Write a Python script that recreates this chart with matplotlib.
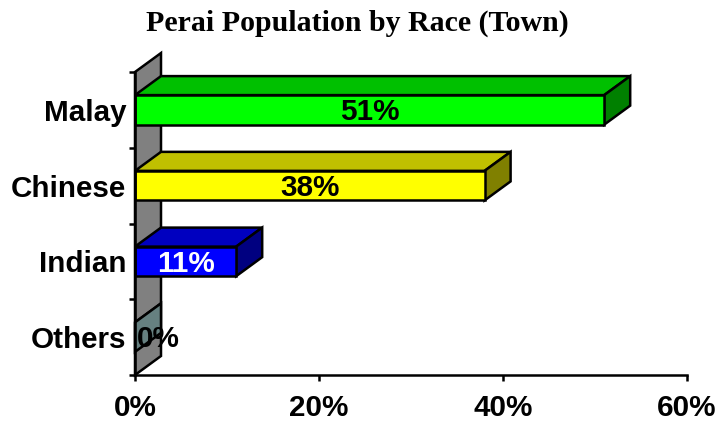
import matplotlib
matplotlib.use("Agg")
from matplotlib import pyplot as plt
from matplotlib.patches import Polygon

# values, bottom to top on the chart
races = ["Others", "Indian", "Chinese", "Malay"]
shares = [0, 11, 38, 51]
labels = ["0%", "11%", "38%", "51%"]
front_colors = ["#008080", "#0000ff", "#ffff00", "#00ff00"]
top_colors = ["#668080", "#0000c0", "#c0c000", "#00c000"]
side_colors = ["#668080", "#000080", "#808000", "#008000"]
label_colors = ["black", "white", "black", "black"]
x_ticks = [0, 20, 40, 60]

W, H = 719, 421
fig = plt.figure(figsize=(W / 100, H / 100), dpi=100)
ax = fig.add_axes([135 / W, 1 - 375 / H, 552 / W, 303 / H])
ax.set_xlim(0, 60)
ax.set_ylim(0, 4)

# fake 3d depth in data units
dx = 26 / 9.2
dy = 19 / 75.75
bar_h = 0.39
lw = 1.8
fs = 21.3


def face(pts, color, z):
    ax.add_patch(Polygon(pts, closed=True, facecolor=color, edgecolor="black",
                         linewidth=lw, joinstyle="miter", clip_on=False, zorder=z))


# back wall
face([(0, 0), (dx, dy), (dx, 4 + dy), (0, 4)], "#808080", 1)

for i, v in enumerate(shares):
    y0 = i + 0.5 - bar_h / 2
    y1 = y0 + bar_h
    z = 2 + (3 - i)
    face([(0, y1), (dx, y1 + dy), (v + dx, y1 + dy), (v, y1)], top_colors[i], z)
    face([(v, y0), (v + dx, y0 + dy), (v + dx, y1 + dy), (v, y1)], side_colors[i], z)
    if v > 0:
        face([(0, y0), (v, y0), (v, y1), (0, y1)], front_colors[i], z)
    x_text = v / 2 if v > 0 else 2.5
    ax.text(x_text, i + 0.47, labels[i], ha="center", va="center", color=label_colors[i],
            fontsize=fs, fontweight="bold", family="Liberation Sans", zorder=10)

for s in ["top", "right"]:
    ax.spines[s].set_visible(False)
for s in ["left", "bottom"]:
    ax.spines[s].set_linewidth(lw)
    ax.spines[s].set_zorder(9)
ax.patch.set_visible(False)

ax.set_xticks(x_ticks)
ax.set_xticklabels([str(t) + "%" for t in x_ticks], fontsize=fs, fontweight="bold",
                   family="Liberation Sans")
ax.set_yticks(range(5))
ax.set_yticklabels([])
ax.set_yticks([i + 0.5 for i in range(4)], minor=True)
ax.set_yticklabels(races, minor=True, fontsize=fs, fontweight="bold", family="Liberation Sans")
ax.tick_params(axis="both", which="major", length=4, width=lw)
ax.tick_params(axis="x", which="major", pad=9.5)
ax.tick_params(axis="y", which="minor", length=0, pad=6.3)

fig.text(357 / W, 1 - 23 / H, "Perai Population by Race (Town)", ha="center", va="center",
         fontsize=21.5, fontweight="bold", family="Liberation Serif")

fig.savefig("out.png", dpi=100)
